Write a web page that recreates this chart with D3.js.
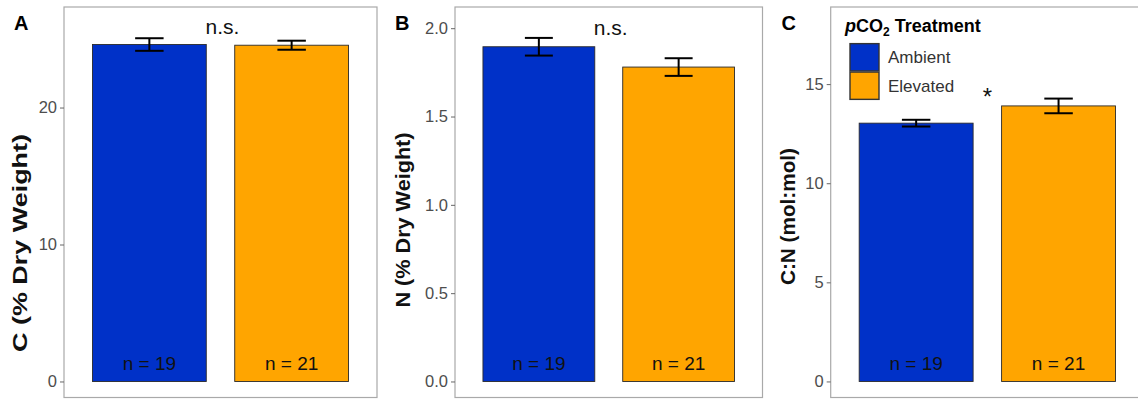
<!DOCTYPE html>
<html>
<head>
<meta charset="utf-8">
<script src="https://cdn.jsdelivr.net/npm/d3@7"></script>
<style>
  body { margin: 0; background: #fff; }
  text { font-family: "Liberation Sans", Arial, Helvetica, sans-serif; }
</style>
</head>
<body>
<div id="chart"></div>
<script>
/* global d3 */

// Tissue C, N and C:N by pCO2 treatment (mean +/- SE)
const treatments = ["Ambient", "Elevated"];
const sampleSizes = [19, 21];

const carbonMeans = [24.6, 24.55];
const carbonSE = [0.46, 0.33];
const nitrogenMeans = [1.895, 1.78];
const nitrogenSE = [0.05, 0.05];
const ratioMeans = [13.03, 13.9];
const ratioSE = [0.17, 0.37];

const carbonTicks = [0, 10, 20];
const nitrogenTicks = [0, 0.5, 1.0, 1.5, 2.0];
const ratioTicks = [0, 5, 10, 15];

const fillColors = ["#0031C8", "#FFA500"];

const width = 1138;
const height = 400;
const panelTop = 7;
const panelBottom = 397.5;

const panels = [
    { letter: "A", means: carbonMeans, se: carbonSE, ticks: carbonTicks, fmt: d3.format("d"),
      title: "C (% Dry Weight)", domain: [-1.17, 27.34], left: 64, right: 377,
      note: "n.s.", noteY: 25.4, titleX: 20, titleY: 243, titleLen: 218, letterX: 14 },
    { letter: "B", means: nitrogenMeans, se: nitrogenSE, ticks: nitrogenTicks, fmt: d3.format(".1f"),
      title: "N (% Dry Weight)", domain: [-0.0907, 2.12], left: 455, right: 762.5,
      note: "n.s.", noteY: 1.96, titleX: 403, titleY: 220, titleLen: 175, letterX: 395 },
    { letter: "C", means: ratioMeans, se: ratioSE, ticks: ratioTicks, fmt: d3.format("d"),
      title: "C:N (mol:mol)", domain: [-0.81, 18.89], left: 830.7, right: 1144,
      note: "*", noteY: 13.96, titleX: 787.5, titleY: 216.5, titleLen: 137, letterX: 781.5 }
];

const svg = d3.select("#chart")
    .append("svg")
    .attr("width", width)
    .attr("height", height);

panels.forEach(p => {
    const g = svg.append("g");

    const x = d3.scaleBand()
        .domain(treatments)
        .range([p.left, p.right])
        .paddingInner(0.2)
        .paddingOuter(0.2);

    const y = d3.scaleLinear()
        .domain(p.domain)
        .range([panelBottom, panelTop]);

    // panel border
    g.append("rect")
        .attr("x", p.left)
        .attr("y", panelTop)
        .attr("width", p.right - p.left)
        .attr("height", panelBottom - panelTop)
        .attr("fill", "none")
        .attr("stroke", "#A9A9A9")
        .attr("stroke-width", 1.2);

    // y axis
    const axis = g.append("g")
        .attr("transform", `translate(${p.left},0)`)
        .call(d3.axisLeft(y).tickValues(p.ticks).tickFormat(p.fmt).tickSize(4).tickPadding(3));
    axis.select(".domain").remove();
    axis.selectAll(".tick line").attr("stroke", "#666");
    axis.selectAll(".tick text")
        .attr("fill", "#4D4D4D")
        .attr("font-size", "16.5px")
        .attr("font-family", "Liberation Sans, Arial, sans-serif");

    // bars
    g.selectAll(".bar")
        .data(treatments)
        .enter()
        .append("rect")
        .attr("x", d => x(d))
        .attr("y", (d, i) => y(p.means[i]))
        .attr("width", x.bandwidth())
        .attr("height", (d, i) => y(0) - y(p.means[i]))
        .attr("fill", (d, i) => fillColors[i])
        .attr("stroke", "#2a2a2a")
        .attr("stroke-width", 0.9);

    // error bars
    const whisker = x.bandwidth() / 4;
    treatments.forEach((t, i) => {
        const cx = x(t) + x.bandwidth() / 2;
        const lo = y(p.means[i] - p.se[i]);
        const hi = y(p.means[i] + p.se[i]);
        g.append("line").attr("x1", cx).attr("x2", cx).attr("y1", lo).attr("y2", hi);
        g.append("line").attr("x1", cx - whisker / 2).attr("x2", cx + whisker / 2).attr("y1", lo).attr("y2", lo);
        g.append("line").attr("x1", cx - whisker / 2).attr("x2", cx + whisker / 2).attr("y1", hi).attr("y2", hi);
    });
    g.selectAll("line:not(.tick line)")
        .attr("stroke", "#000")
        .attr("stroke-width", 2);

    // sample sizes
    g.selectAll(".n-label")
        .data(treatments)
        .enter()
        .append("text")
        .attr("x", d => x(d) + x.bandwidth() / 2)
        .attr("y", y(0) - 11)
        .attr("text-anchor", "middle")
        .attr("font-size", "19px")
        .attr("fill", "#111")
        .text((d, i) => "n = " + sampleSizes[i]);

    // significance note
    g.append("text")
        .attr("x", (p.left + p.right) / 2 + (p.note === "*" ? 0 : 2))
        .attr("y", y(p.noteY))
        .attr("text-anchor", "middle")
        .attr("font-size", p.note === "*" ? "24px" : "21px")
        .attr("fill", "#111")
        .text(p.note);

    // axis title
    g.append("text")
        .attr("transform", `translate(${p.titleX},${p.titleY}) rotate(-90)`)
        .attr("text-anchor", "middle")
        .attr("dominant-baseline", "central")
        .attr("font-size", "20px")
        .attr("font-weight", "bold")
        .attr("fill", "#111")
        .attr("textLength", p.titleLen)
        .attr("lengthAdjust", "spacingAndGlyphs")
        .text(p.title);

    // panel letter
    g.append("text")
        .attr("x", p.letterX)
        .attr("y", 29.5)
        .attr("font-size", "20px")
        .attr("font-weight", "bold")
        .attr("fill", "#000")
        .text(p.letter);
});

// legend inside panel C
const legend = svg.append("g");
const legendTitle = legend.append("text")
    .attr("x", 845)
    .attr("y", 31.5)
    .attr("font-size", "18px")
    .attr("font-weight", "bold")
    .attr("fill", "#000");
legendTitle.append("tspan").attr("font-style", "italic").text("p");
legendTitle.append("tspan").text("CO");
legendTitle.append("tspan").attr("font-size", "12px").attr("dy", 4).text("2");
legendTitle.append("tspan").attr("dy", -4).text(" Treatment");

const keyY = d3.scaleBand().domain(treatments).range([42.5, 100.5]).padding(0.04);

legend.selectAll(".key")
    .data(treatments)
    .enter()
    .append("rect")
    .attr("x", 850)
    .attr("y", d => keyY(d))
    .attr("width", 29)
    .attr("height", keyY.bandwidth())
    .attr("fill", (d, i) => fillColors[i])
    .attr("stroke", "#333")
    .attr("stroke-width", 1.4);

legend.selectAll(".key-label")
    .data(treatments)
    .enter()
    .append("text")
    .attr("x", 888)
    .attr("y", d => keyY(d) + keyY.bandwidth() / 2 + 6)
    .attr("font-size", "17px")
    .attr("fill", "#333")
    .text(d => d);
</script>
</body>
</html>
